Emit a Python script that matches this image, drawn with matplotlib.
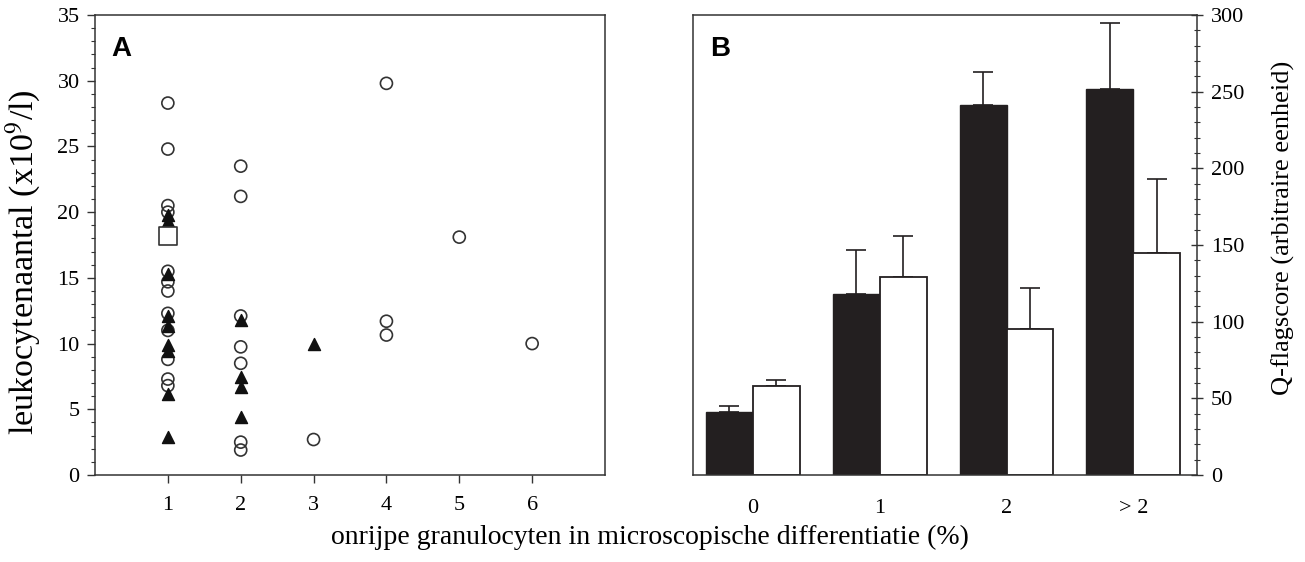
import matplotlib
matplotlib.use("Agg")
import matplotlib.pyplot as plt
from matplotlib.ticker import MultipleLocator

# ---- Panel A data ----
col1_circles = [28.3, 24.8, 20.5, 20.0, 15.5, 14.7, 14.0, 12.3, 11.0, 8.8, 7.3, 6.8]
col1_triangles = [19.8, 19.3, 15.3, 12.1, 11.3, 9.9, 9.4, 6.2, 2.9]
col1_squares = [18.2]
col2_circles = [23.5, 21.2, 12.1, 9.75, 8.5, 2.5, 1.9]
col2_triangles = [11.8, 7.45, 6.7, 4.4]
col3_circles = [2.7]
col3_triangles = [10.0]
col4_circles = [29.8, 11.7, 10.65]
col5_circles = [18.1]
col6_circles = [10.0]

# ---- Panel B data ----
groups = ["0", "1", "2", "> 2"]
black_vals = [41, 118, 241, 252]
black_err = [4, 29, 22, 43]
white_vals = [58, 129, 95, 145]
white_err = [4, 27, 27, 48]

serif = ["Liberation Serif", "DejaVu Serif"]
plt.rcParams["font.family"] = serif
plt.rcParams["mathtext.fontset"] = "stix"

fig = plt.figure(figsize=(13.05, 5.62), dpi=100)
axA = fig.add_axes([0.0728, 0.1548, 0.3908, 0.8185])
axB = fig.add_axes([0.5310, 0.1548, 0.3862, 0.8185])

spine_c = "#333333"

# ---- Panel A ----
circ = dict(marker="o", s=75, facecolors="none", edgecolors="#333333", linewidths=1.2, zorder=2)
tri = dict(marker="^", s=75, color="#111111", zorder=3)
sq = dict(marker="s", s=150, facecolors="white", edgecolors="#333333", linewidths=1.2, zorder=4)

cols_c = [(1, col1_circles), (2, col2_circles), (3, col3_circles), (4, col4_circles),
          (5, col5_circles), (6, col6_circles)]
for x, ys in cols_c:
    axA.scatter([x] * len(ys), ys, **circ)
for x, ys in [(1, col1_triangles), (2, col2_triangles), (3, col3_triangles)]:
    axA.scatter([x] * len(ys), ys, **tri)
axA.scatter([1] * len(col1_squares), col1_squares, **sq)

axA.set_xlim(0, 7)
axA.set_ylim(0, 35)
axA.set_xticks([1, 2, 3, 4, 5, 6])
axA.yaxis.set_major_locator(MultipleLocator(5))
axA.yaxis.set_minor_locator(MultipleLocator(1))
axA.tick_params(axis="both", which="major", direction="out", length=6, width=1,
                color=spine_c, labelsize=16, pad=5)
axA.tick_params(axis="y", which="minor", direction="out", length=3, width=0.8, color=spine_c)
axA.tick_params(axis="x", pad=9)
for s in axA.spines.values():
    s.set_color(spine_c)
    s.set_linewidth(1.1)
axA.text(0.032, 0.955, "A", transform=axA.transAxes, fontsize=20, fontweight="bold",
         family=["Liberation Sans", "DejaVu Sans"], va="top", ha="left")

# ---- Panel B ----
bw = 0.37
xs = list(range(len(groups)))
axB.bar([x - bw / 2 for x in xs], black_vals, width=bw, color="#231f20",
        edgecolor="#231f20", linewidth=1, zorder=2)
axB.bar([x + bw / 2 for x in xs], white_vals, width=bw, color="white",
        edgecolor="#231f20", linewidth=1.3, zorder=2)
axB.errorbar([x - bw / 2 for x in xs], black_vals, yerr=[[0] * 4, black_err], fmt="none",
             ecolor="#231f20", elinewidth=1.2, capsize=7, capthick=1.2, zorder=1)
axB.errorbar([x + bw / 2 for x in xs], white_vals, yerr=[[0] * 4, white_err], fmt="none",
             ecolor="#231f20", elinewidth=1.2, capsize=7, capthick=1.2, zorder=1)
axB.set_xlim(-0.47, 3.5)
axB.set_ylim(0, 300)
axB.set_xticks(xs)
axB.set_xticklabels(groups)
axB.tick_params(axis="x", length=0, labelsize=16, pad=17)
axB.yaxis.tick_right()
axB.yaxis.set_major_locator(MultipleLocator(50))
axB.yaxis.set_minor_locator(MultipleLocator(10))
axB.tick_params(axis="y", which="major", direction="inout", length=8, width=1,
                color=spine_c, labelsize=16, pad=6)
axB.tick_params(axis="y", which="minor", direction="inout", length=5, width=0.8, color=spine_c)
for s in axB.spines.values():
    s.set_color(spine_c)
    s.set_linewidth(1.1)
axB.text(0.035, 0.955, "B", transform=axB.transAxes, fontsize=20, fontweight="bold",
         family=["Liberation Sans", "DejaVu Sans"], va="top", ha="left")

# ---- axis titles ----
fig.text(23 / 1305, 1 - 262 / 562, "leukocytenaantal (x10$^{9}$/l)", fontsize=24.5,
         rotation=90, ha="center", va="center")
fig.text(1283 / 1305, 1 - 228 / 562, "Q-flagscore (arbitraire eenheid)", fontsize=19,
         rotation=90, ha="center", va="center")
fig.text(650 / 1305, 1 - 537 / 562, "onrijpe granulocyten in microscopische differentiatie (%)",
         fontsize=20, ha="center", va="center")

fig.savefig("out.png", dpi=100)
